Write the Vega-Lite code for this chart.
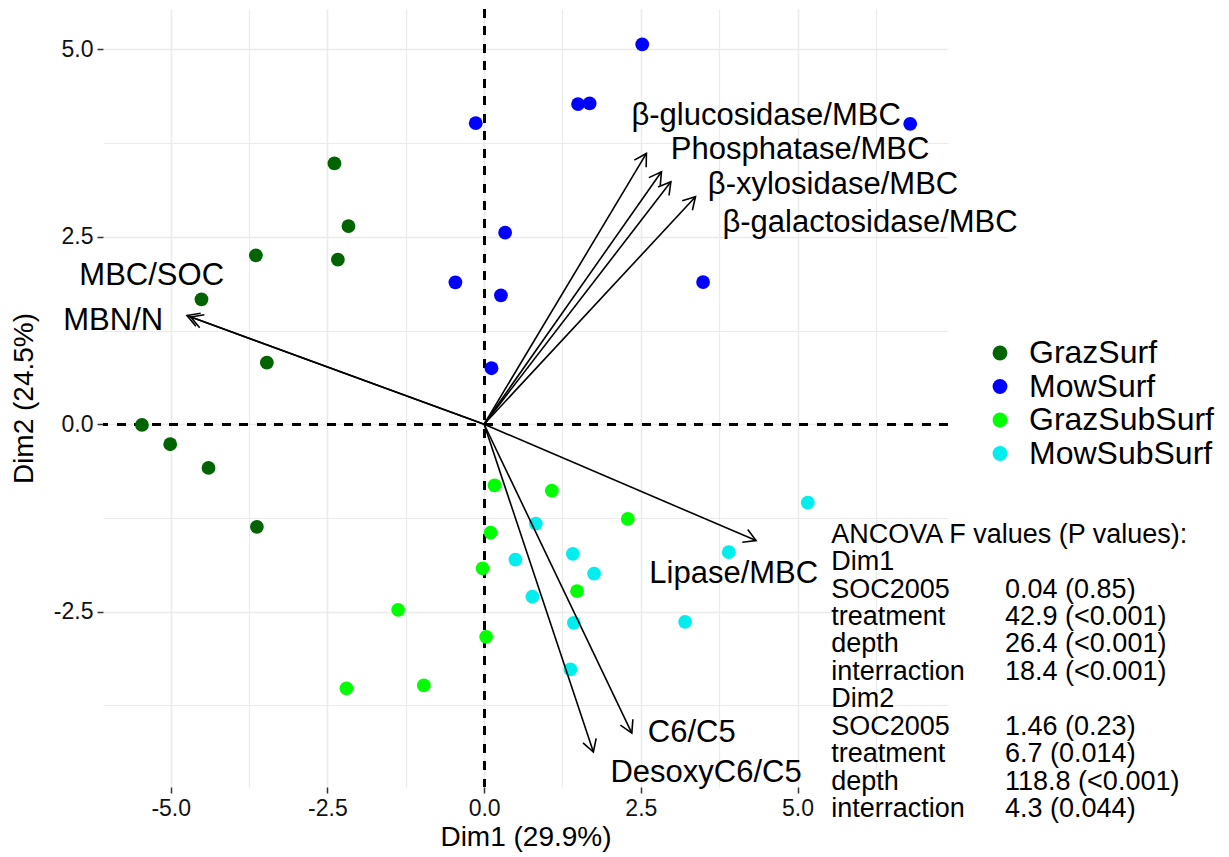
{
  "$schema": "https://vega.github.io/schema/vega-lite/v6.json",
  "width": 845,
  "height": 778,
  "autosize": {"type": "none"},
  "padding": {"left": 103, "top": 9, "right": 281, "bottom": 70},
  "background": "white",
  "config": {
    "view": {"stroke": null},
    "font": "Liberation Sans",
    "text": {"font": "Liberation Sans"}
  },
  "datasets": {
    "scores": [
      {"group": "GrazSurf", "x": -2.388, "y": 3.48},
      {"group": "GrazSurf", "x": -2.164, "y": 2.644},
      {"group": "GrazSurf", "x": -3.641, "y": 2.253},
      {"group": "GrazSurf", "x": -2.333, "y": 2.195},
      {"group": "GrazSurf", "x": -4.509, "y": 1.667},
      {"group": "GrazSurf", "x": -3.466, "y": 0.821},
      {"group": "GrazSurf", "x": -5.459, "y": -0.009},
      {"group": "GrazSurf", "x": -5.008, "y": -0.267},
      {"group": "GrazSurf", "x": -4.397, "y": -0.583},
      {"group": "GrazSurf", "x": -3.625, "y": -1.369},
      {"group": "MowSurf", "x": 2.522, "y": 5.067},
      {"group": "MowSurf", "x": 1.498, "y": 4.271},
      {"group": "MowSurf", "x": 1.683, "y": 4.28},
      {"group": "MowSurf", "x": -0.134, "y": 4.017},
      {"group": "MowSurf", "x": 6.797, "y": 4.008},
      {"group": "MowSurf", "x": 0.335, "y": 2.555},
      {"group": "MowSurf", "x": -0.458, "y": 1.893},
      {"group": "MowSurf", "x": 0.268, "y": 1.72},
      {"group": "MowSurf", "x": 3.493, "y": 1.897},
      {"group": "MowSurf", "x": 0.118, "y": 0.747},
      {"group": "GrazSubSurf", "x": 0.167, "y": -0.816},
      {"group": "GrazSubSurf", "x": 1.08, "y": -0.885},
      {"group": "GrazSubSurf", "x": 2.292, "y": -1.263},
      {"group": "GrazSubSurf", "x": 0.104, "y": -1.445},
      {"group": "GrazSubSurf", "x": -0.024, "y": -1.923},
      {"group": "GrazSubSurf", "x": 1.483, "y": -2.227},
      {"group": "GrazSubSurf", "x": -1.372, "y": -2.476},
      {"group": "GrazSubSurf", "x": 0.032, "y": -2.836},
      {"group": "GrazSubSurf", "x": -0.962, "y": -3.485},
      {"group": "GrazSubSurf", "x": -2.196, "y": -3.525},
      {"group": "MowSubSurf", "x": 5.163, "y": -1.045},
      {"group": "MowSubSurf", "x": 0.825, "y": -1.325},
      {"group": "MowSubSurf", "x": 3.903, "y": -1.707},
      {"group": "MowSubSurf", "x": 0.499, "y": -1.805},
      {"group": "MowSubSurf", "x": 1.415, "y": -1.729},
      {"group": "MowSubSurf", "x": 1.754, "y": -1.992},
      {"group": "MowSubSurf", "x": 0.77, "y": -2.299},
      {"group": "MowSubSurf", "x": 1.431, "y": -2.649},
      {"group": "MowSubSurf", "x": 3.206, "y": -2.636},
      {"group": "MowSubSurf", "x": 1.376, "y": -3.272}
    ],
    "arrows": [
      {"var": "MBC/SOC", "x": -4.68, "y": 1.43, "lx": -5.303, "ly": 1.973},
      {"var": "MBN/N", "x": -4.74, "y": 1.45, "lx": -5.917, "ly": 1.373},
      {"var": "β-glucosidase/MBC", "x": 2.589, "y": 3.613, "lx": 4.498, "ly": 4.113},
      {"var": "Phosphatase/MBC", "x": 2.829, "y": 3.368, "lx": 5.04, "ly": 3.66},
      {"var": "β-xylosidase/MBC", "x": 2.979, "y": 3.235, "lx": 5.566, "ly": 3.193},
      {"var": "β-galactosidase/MBC", "x": 3.372, "y": 3.035, "lx": 6.156, "ly": 2.687},
      {"var": "Lipase/MBC", "x": 4.338, "y": -1.552, "lx": 3.982, "ly": -2.0},
      {"var": "C6/C5", "x": 2.356, "y": -4.12, "lx": 3.313, "ly": -4.123},
      {"var": "DesoxyC6/C5", "x": 1.743, "y": -4.373, "lx": 3.541, "ly": -4.647}
    ],
    "ancova": [
      {"term": "ANCOVA F values (P values):", "stat": "", "ty": -1.579},
      {"term": "Dim1", "stat": "", "ty": -1.945},
      {"term": "SOC2005", "stat": "0.04 (0.85)", "ty": -2.312},
      {"term": "treatment", "stat": "42.9 (<0.001)", "ty": -2.679},
      {"term": "depth", "stat": "26.4 (<0.001)", "ty": -3.045},
      {"term": "interraction", "stat": "18.4 (<0.001)", "ty": -3.412},
      {"term": "Dim2", "stat": "", "ty": -3.779},
      {"term": "SOC2005", "stat": "1.46 (0.23)", "ty": -4.145},
      {"term": "treatment", "stat": "6.7 (0.014)", "ty": -4.512},
      {"term": "depth", "stat": "118.8 (<0.001)", "ty": -4.879},
      {"term": "interraction", "stat": "4.3 (0.044)", "ty": -5.245}
    ]
  },
  "layer": [
    {
      "data": {"name": "scores"},
      "mark": {"type": "rule", "strokeDash": [8.5, 9], "strokeWidth": 2, "color": "black"},
      "encoding": {
        "x": {
          "datum": 0,
          "type": "quantitative",
          "scale": {"domain": [-6.08, 7.4], "nice": false, "zero": false},
          "axis": {
            "title": "Dim1 (29.9%)",
            "values": [-5, -3.75, -2.5, -1.25, 0, 1.25, 2.5, 3.75, 5, 6.25],
            "labelExpr": "abs(datum.value % 2.5) > 0.01 ? '' : replace(format(datum.value, '.1f'), '\u2212', '-')",
            "domain": false,
            "grid": true,
            "gridColor": "#EBEBEB",
            "gridWidth": {"condition": {"test": "abs(datum.value % 2.5) > 0.01", "value": 1.2}, "value": 1.6},
            "tickColor": "#333333",
            "tickSize": 6,
            "tickWidth": 1.5,
            "tickOpacity": {"condition": {"test": "abs(datum.value % 2.5) > 0.01", "value": 0}, "value": 1},
            "labelFont": "Liberation Sans",
            "labelFontSize": 23,
            "labelColor": "#111111",
            "labelPadding": 4,
            "labelOverlap": false,
            "labelFlush": false,
            "titleFont": "Liberation Sans",
            "titleFontSize": 28,
            "titleFontWeight": "normal",
            "titleColor": "black",
            "titlePadding": 3
          }
        }
      }
    },
    {
      "data": {"name": "scores"},
      "mark": {"type": "rule", "strokeDash": [8.5, 9], "strokeWidth": 2, "color": "black"},
      "encoding": {
        "y": {
          "datum": 0,
          "type": "quantitative",
          "scale": {"domain": [-4.84, 5.54], "nice": false, "zero": false},
          "axis": {
            "title": "Dim2 (24.5%)",
            "values": [-3.75, -2.5, -1.25, 0, 1.25, 2.5, 3.75, 5],
            "labelExpr": "abs(datum.value % 2.5) > 0.01 ? '' : replace(format(datum.value, '.1f'), '\u2212', '-')",
            "domain": false,
            "grid": true,
            "gridColor": "#EBEBEB",
            "gridWidth": {"condition": {"test": "abs(datum.value % 2.5) > 0.01", "value": 1.2}, "value": 1.6},
            "tickColor": "#333333",
            "tickSize": 6,
            "tickWidth": 1.5,
            "tickOpacity": {"condition": {"test": "abs(datum.value % 2.5) > 0.01", "value": 0}, "value": 1},
            "labelFont": "Liberation Sans",
            "labelFontSize": 23,
            "labelColor": "#111111",
            "labelPadding": 4,
            "labelOverlap": false,
            "labelFlush": false,
            "titleFont": "Liberation Sans",
            "titleFontSize": 28,
            "titleFontWeight": "normal",
            "titleColor": "black",
            "titlePadding": 15
          }
        }
      }
    },
    {
      "data": {"name": "scores"},
      "mark": {"type": "circle", "size": 190, "opacity": 1},
      "encoding": {
        "x": {"field": "x", "type": "quantitative"},
        "y": {"field": "y", "type": "quantitative"},
        "color": {
          "field": "group",
          "type": "nominal",
          "scale": {
            "domain": ["GrazSurf", "MowSurf", "GrazSubSurf", "MowSubSurf"],
            "range": ["#006400", "#0000FF", "#00FF00", "#00EEEE"]
          },
          "legend": {
            "title": null,
            "orient": "none",
            "legendX": 881,
            "legendY": 328,
            "padding": 0,
            "labelFont": "Liberation Sans",
            "labelFontSize": 32,
            "labelColor": "black",
            "labelOffset": 13,
            "labelLimit": 0,
            "symbolSize": 220,
            "symbolType": "circle",
            "symbolStrokeWidth": 0,
            "symbolOpacity": 1,
            "rowPadding": 1.5
          }
        }
      }
    },
    {
      "data": {"name": "arrows"},
      "mark": {"type": "rule", "color": "black", "strokeWidth": 1.6},
      "encoding": {
        "x": {"field": "x", "type": "quantitative"},
        "y": {"field": "y", "type": "quantitative"},
        "x2": {"datum": 0},
        "y2": {"datum": 0}
      }
    },
    {
      "data": {"name": "arrows"},
      "transform": [
        {"calculate": "atan2(-datum.y * 74.952, datum.x * 62.685) * 180 / PI", "as": "ang"}
      ],
      "mark": {
        "type": "point",
        "shape": "M-1,-0.577L0,0L-1,0.577",
        "filled": false,
        "stroke": "black",
        "strokeWidth": 1.6,
        "size": 576,
        "opacity": 1
      },
      "encoding": {
        "x": {"field": "x", "type": "quantitative"},
        "y": {"field": "y", "type": "quantitative"},
        "angle": {"field": "ang", "type": "quantitative", "scale": null}
      }
    },
    {
      "data": {"name": "arrows"},
      "mark": {"type": "text", "font": "Liberation Sans", "fontSize": 31, "color": "black", "align": "center", "baseline": "middle"},
      "encoding": {
        "x": {"field": "lx", "type": "quantitative"},
        "y": {"field": "ly", "type": "quantitative"},
        "text": {"field": "var"}
      }
    },
    {
      "data": {"name": "ancova"},
      "mark": {"type": "text", "font": "Liberation Sans", "fontSize": 27, "color": "black", "align": "left", "baseline": "alphabetic"},
      "encoding": {
        "x": {"datum": 5.536},
        "y": {"field": "ty", "type": "quantitative"},
        "text": {"field": "term"}
      }
    },
    {
      "data": {"name": "ancova"},
      "mark": {"type": "text", "font": "Liberation Sans", "fontSize": 27, "color": "black", "align": "left", "baseline": "alphabetic"},
      "encoding": {
        "x": {"datum": 8.31},
        "y": {"field": "ty", "type": "quantitative"},
        "text": {"field": "stat"}
      }
    }
  ]
}
